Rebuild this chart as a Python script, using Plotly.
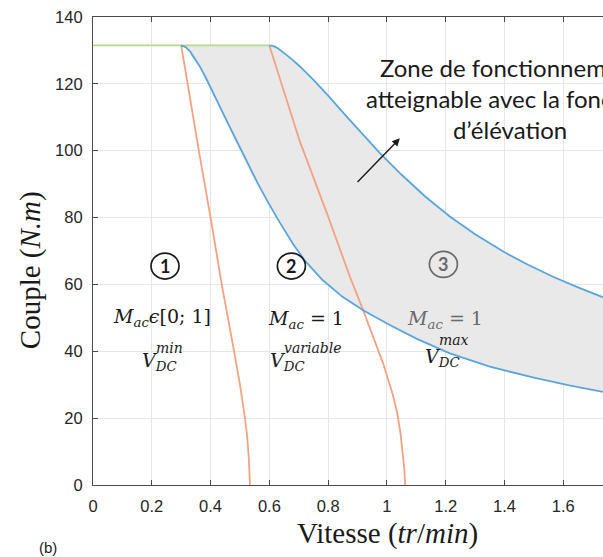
import plotly.graph_objects as go

# Speed (tr/min) and torque (N.m) samples of each characteristic
green_x = [0.0, 0.30, 0.60]
green_y = [131.5, 131.5, 131.5]

low_x = [0.30, 0.315, 0.33, 0.345, 0.364, 0.38, 0.40, 0.42, 0.44, 0.46, 0.477, 0.50, 0.52,
         0.54, 0.56, 0.591, 0.63, 0.68, 0.72, 0.78, 0.85, 0.919, 1.0, 1.1, 1.214,
         1.35, 1.5, 1.62, 1.74]
low_y = [131.5, 131.0, 129.7, 127.8, 125.1, 122.5, 119.0, 115.3, 111.6, 108.0, 105.0, 100.8, 97.3,
         93.8, 90.3, 85.3, 79.3, 72.2, 67.2, 61.4, 56.2, 52.3, 48.3, 43.8, 39.4,
         35.4, 32.1, 29.8, 27.8]

up_x = [0.60, 0.615, 0.63, 0.645, 0.659, 0.68, 0.704, 0.75, 0.80, 0.86, 0.92, 0.976, 1.05,
        1.13, 1.214, 1.30, 1.40, 1.48, 1.565, 1.65, 1.74]
up_y = [131.5, 131.3, 130.6, 129.7, 128.6, 127.1, 125.2, 121.2, 116.5, 110.5, 104.7, 99.3, 92.8,
        86.3, 80.3, 75.0, 69.6, 65.9, 62.3, 59.1, 56.0]

or1_x = [0.30, 0.33, 0.36, 0.40, 0.438, 0.48, 0.50, 0.517, 0.525, 0.530, 0.533, 0.534]
or1_y = [131.5, 115.5, 100.0, 80.0, 60.0, 40.0, 30.0, 20.0, 14.0, 8.0, 3.5, 0.0]

or2_x = [0.60, 0.65, 0.704, 0.80, 0.874, 0.919, 0.987, 1.02, 1.035, 1.046, 1.054, 1.059, 1.062]
or2_y = [131.5, 117.5, 102.7, 80.3, 62.3, 52.3, 36.4, 27.0, 21.5, 15.5, 10.0, 5.0, 0.0]

x_ticks = [0, 0.2, 0.4, 0.6, 0.8, 1.0, 1.2, 1.4, 1.6]
x_tick_text = ["0", "0.2", "0.4", "0.6", "0.8", "1", "1.2", "1.4", "1.6"]
y_ticks = [0, 20, 40, 60, 80, 100, 120, 140]

BLUE = "#5aa5dc"
ORANGE = "#f3a283"
GREEN = "#b3d98a"
FILL = "#e9e9e9"
MATH_FONT = "DejaVu Serif"
TITLE_FONT = "Liberation Serif, Times New Roman, serif"
DARK = "#1a1a1a"
GREY_TXT = "#6a6a6a"

fig = go.Figure()

# reachable zone with field weakening: between the two power curves
fill_x = low_x + up_x[::-1]
fill_y = low_y + up_y[::-1]
fig.add_trace(go.Scatter(x=fill_x, y=fill_y, fill="toself", fillcolor=FILL,
                         line=dict(width=0), mode="lines", hoverinfo="skip"))

fig.add_trace(go.Scatter(x=green_x, y=green_y, mode="lines",
                         line=dict(color=GREEN, width=1.6)))
for xs, ys in [(or1_x, or1_y), (or2_x, or2_y)]:
    fig.add_trace(go.Scatter(x=xs, y=ys, mode="lines",
                             line=dict(color=ORANGE, width=1.8)))
for xs, ys in [(low_x, low_y), (up_x, up_y)]:
    fig.add_trace(go.Scatter(x=xs, y=ys, mode="lines",
                             line=dict(color=BLUE, width=1.8)))

# region markers (circled numbers)
regions = [(0.245, 65.5, "1", DARK), (0.675, 65.5, "2", DARK),
           (1.192, 66.0, "3", GREY_TXT)]
shapes = []
annotations = []
for rx, ry, lab, col in regions:
    shapes.append(dict(type="circle", xref="x", yref="y", xsizemode="pixel",
                       ysizemode="pixel", xanchor=rx, yanchor=ry,
                       x0=-14, x1=14, y0=-13, y1=13,
                       line=dict(color=col, width=1.7)))
    annotations.append(dict(x=rx, y=ry, text="<b>" + lab + "</b>", showarrow=False,
                            font=dict(family="Lato", size=18, color=col)))

# operating condition labels
def math_label(xc, y_m, m_text, v_left, y_v, sup_text, sup_y, col_m, col_v):
    annotations.append(dict(x=xc, y=y_m, text=m_text, showarrow=False,
                            font=dict(family=MATH_FONT, size=19, color=col_m)))
    annotations.append(dict(x=v_left, y=y_v, xanchor="left",
                            text="<i>V</i><sub><i>DC</i></sub>", showarrow=False,
                            font=dict(family=MATH_FONT, size=19, color=col_v)))
    annotations.append(dict(x=v_left + 0.047, y=sup_y, xanchor="left",
                            text="<i>" + sup_text + "</i>", showarrow=False,
                            font=dict(family=MATH_FONT, size=14, color=col_v)))

math_label(0.236, 50.2, "<i>M</i><sub><i>ac</i></sub><i>ϵ</i>[0; 1]",
           0.16, 37.0, "min", 41.0, DARK, DARK)
math_label(0.726, 49.4, "<i>M</i><sub><i>ac</i></sub> = 1",
           0.595, 37.0, "variable", 41.0, DARK, DARK)
math_label(1.197, 49.4, "<i>M</i><sub><i>ac</i></sub> = 1",
           1.122, 38.0, "max", 43.3, GREY_TXT, DARK)

# zone description and arrow
annotations.append(dict(x=1.418, y=115.5,
                        text="Zone de fonctionnement<br>atteignable avec la fonction<br>d’élévation",
                        showarrow=False, align="center",
                        font=dict(family="Lato", size=24, color=DARK)))
annotations.append(dict(x=1.044, y=103.7, ax=0.895, ay=90.2, axref="x", ayref="y",
                        xref="x", yref="y", text="", showarrow=True,
                        arrowhead=2, arrowsize=1.1, arrowwidth=1.4, arrowcolor=DARK))

# axis titles and panel tag
annotations.append(dict(x=-0.1235, y=0.459, xref="paper", yref="paper",
                        xanchor="center", yanchor="middle",
                        text="Couple (<i>N.m</i>)", textangle=-90, showarrow=False,
                        font=dict(family=TITLE_FONT, size=29, color=DARK)))
annotations.append(dict(x=0.578, y=-0.1026, xref="paper", yref="paper",
                        xanchor="center", yanchor="middle",
                        text="Vitesse (<i>tr</i>/<i>min</i>)", showarrow=False,
                        font=dict(family=TITLE_FONT, size=29, color=DARK)))
annotations.append(dict(x=-0.0882, y=-0.1325, xref="paper", yref="paper",
                        xanchor="center", yanchor="middle",
                        text="(b)", showarrow=False,
                        font=dict(family="Liberation Sans", size=15, color=DARK)))

axis_common = dict(showgrid=True, gridcolor="#e6e6e6", gridwidth=1, zeroline=False,
                   showline=True, linecolor="#4a4a4a", linewidth=1.2,
                   ticks="inside", ticklen=5, tickcolor="#4a4a4a",
                   tickfont=dict(family="Liberation Sans", size=16.5, color="#262626"))

fig.update_layout(
    width=603, height=557,
    margin=dict(l=93, r=0, t=17, b=72),
    paper_bgcolor="white", plot_bgcolor="white",
    showlegend=False,
    shapes=shapes, annotations=annotations,
    xaxis=dict(range=[0, 1.735], tickvals=x_ticks, ticktext=x_tick_text,
               mirror="allticks", ticklabelstandoff=6, **axis_common),
    yaxis=dict(range=[0, 140], tickvals=y_ticks, ticklabelstandoff=6, **axis_common),
)

fig.write_html("out.html")
